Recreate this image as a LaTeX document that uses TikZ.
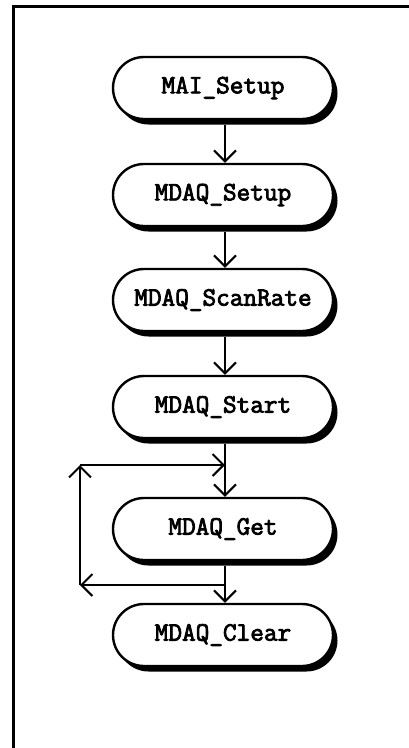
\documentclass[tikz,border=0pt]{standalone}
\usepackage{fontspec}
\newfontfamily\cour[AutoFakeBold=3]{Latin Modern Mono}
\usetikzlibrary{arrows.meta,shadows}
\begin{document}
\begin{tikzpicture}[x=1pt,y=-1pt,
  proc/.style={draw, line width=2.4pt, fill=white, rectangle,
    rounded corners=31pt, minimum width=220pt, minimum height=62pt,
    inner sep=0pt, font=\cour\bfseries\fontsize{26.5}{28}\selectfont,
    drop shadow={shadow xshift=4.5pt, shadow yshift=-5.5pt, fill=black, opacity=1}},
  arr/.style={line width=2pt, -{Straight Barb[length=11pt,width=22pt]}},
  ln/.style={line width=2pt}]
\useasboundingbox (0,0) rectangle (409,748);
\fill[white] (0,0) rectangle (409,748);
\draw[line width=3pt] (13.5,760) -- (13.5,6.5) -- (420,6.5);

\node[proc] (mai) at (223,88) {MAI\_Setup};
\node[proc] (setup) at (223,195) {MDAQ\_Setup};
\node[proc] (rate) at (223,300) {MDAQ\_ScanRate};
\node[proc] (start) at (223,407) {MDAQ\_Start};
\node[proc] (get) at (223,529) {MDAQ\_Get};
\node[proc] (clear) at (223,635) {MDAQ\_Clear};

\coordinate (lb) at (225,585);
\coordinate (ll) at (80,585);
\coordinate (lt) at (80,465);
\coordinate (rt) at (225,465);

\draw[arr] ([xshift=2pt,yshift=-5pt]mai.south) -- ([xshift=2pt]setup.north);
\draw[arr] ([xshift=2pt,yshift=-5pt]setup.south) -- ([xshift=2pt]rate.north);
\draw[arr] ([xshift=2pt,yshift=-5pt]rate.south) -- ([xshift=2pt]start.north);
\draw[arr] ([xshift=2pt,yshift=-5pt]start.south) -- ([xshift=2pt]get.north);
\draw[arr] ([xshift=2pt,yshift=-5pt]get.south) -- ([xshift=2pt]clear.north);
\draw[arr] (lb) -- (ll);
\draw[arr] (ll) -- (lt);
\draw[arr] (lt) -- (rt);
\end{tikzpicture}
\end{document}
